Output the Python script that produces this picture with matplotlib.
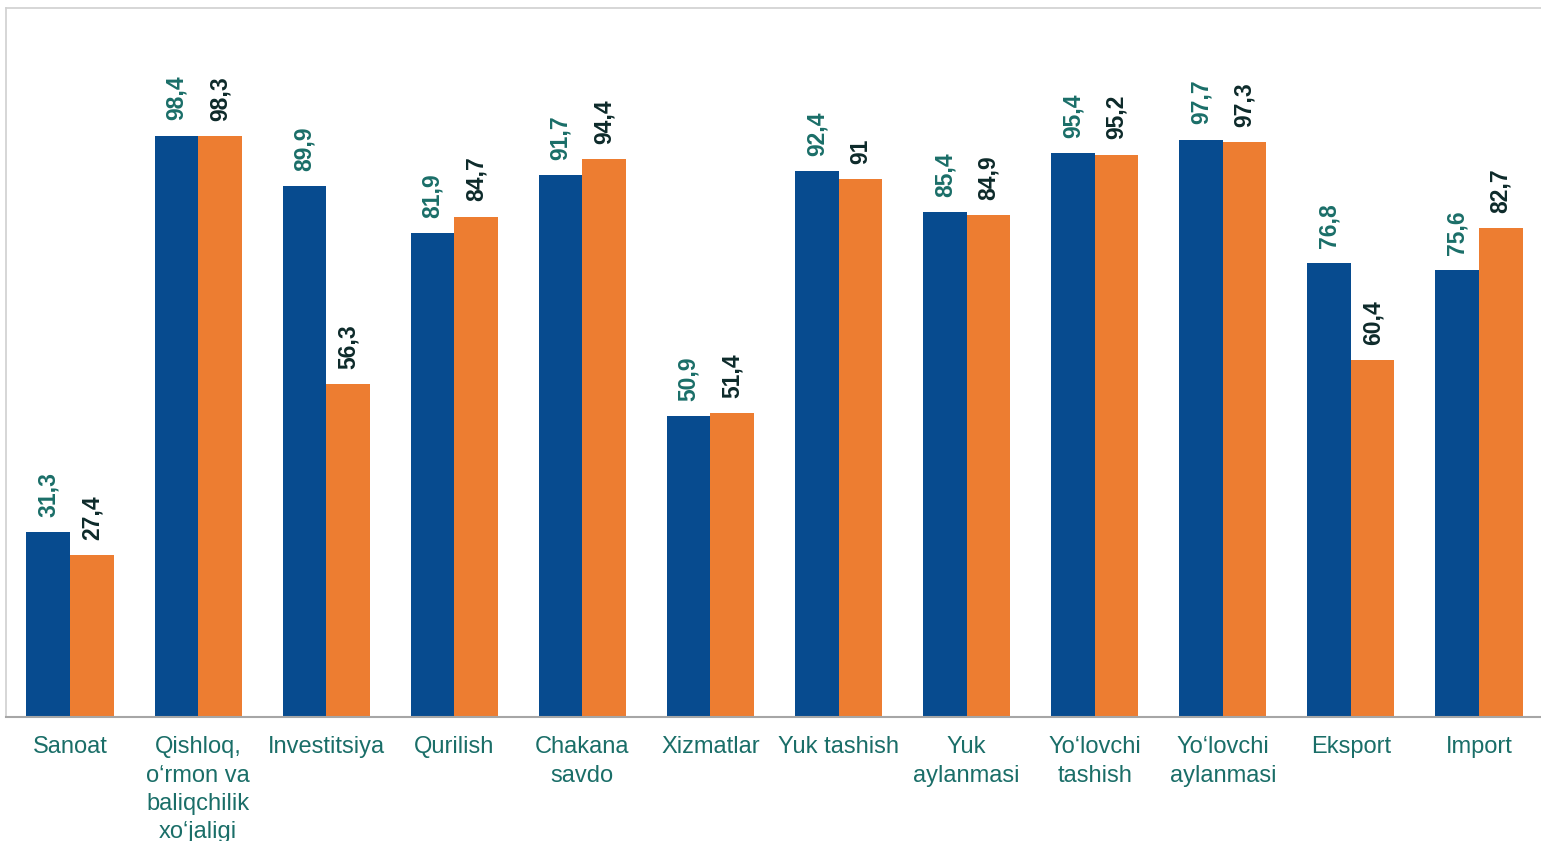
import numpy as np
import matplotlib.pyplot as plt

categories = ["Sanoat", "Qishloq,\no\u2018rmon va\nbaliqchilik\nxo\u2018jaligi", "Investitsiya",
              "Qurilish", "Chakana\nsavdo", "Xizmatlar", "Yuk tashish", "Yuk\naylanmasi",
              "Yo\u2018lovchi\ntashish", "Yo\u2018lovchi\naylanmasi", "Eksport", "Import"]
series_a = [31.3, 98.4, 89.9, 81.9, 91.7, 50.9, 92.4, 85.4, 95.4, 97.7, 76.8, 75.6]
series_b = [27.4, 98.3, 56.3, 84.7, 94.4, 51.4, 91, 84.9, 95.2, 97.3, 60.4, 82.7]

BLUE = '#074B8F'
ORANGE = '#ED7D31'
TEAL = '#1A6E68'
DARK = '#0D2A2A'


def fmt(v):
    return f"{v:g}".replace('.', ',')


def main():
    plt.rcParams['font.family'] = ['Liberation Sans', 'DejaVu Sans']
    fig = plt.figure(figsize=(15.41, 8.41), dpi=100)
    ax = fig.add_axes([6 / 1541, 1 - 717 / 841, 1537 / 1541, (717 - 8) / 841])

    x = np.arange(len(categories))
    w = 0.34
    bars_a = ax.bar(x - w / 2, series_a, w, color=BLUE)
    bars_b = ax.bar(x + w / 2, series_b, w, color=ORANGE)

    for bars, vals, col in ((bars_a, series_a, TEAL), (bars_b, series_b, DARK)):
        for b, v in zip(bars, vals):
            ax.annotate(fmt(v), (b.get_x() + b.get_width() / 2, v),
                        xytext=(0, 11), textcoords='offset points',
                        rotation=90, ha='center', va='bottom',
                        fontsize=16.5, fontweight='bold', color=col)

    ax.set_xlim(-0.5, len(categories) - 0.5)
    ax.set_ylim(0, 120)
    ax.set_yticks([])
    ax.set_xticks(x)
    ax.set_xticklabels(categories, fontsize=17, color=TEAL, linespacing=1.36, va='top')
    ax.tick_params(axis='x', length=0, pad=14)

    for side in ('top', 'left'):
        ax.spines[side].set_color('#D0D0D0')
        ax.spines[side].set_linewidth(1.2)
    ax.spines['right'].set_visible(False)
    ax.spines['bottom'].set_color('#A6A6A6')
    ax.spines['bottom'].set_linewidth(1.5)

    fig.savefig('out.png', dpi=100)


if __name__ == '__main__':
    main()
